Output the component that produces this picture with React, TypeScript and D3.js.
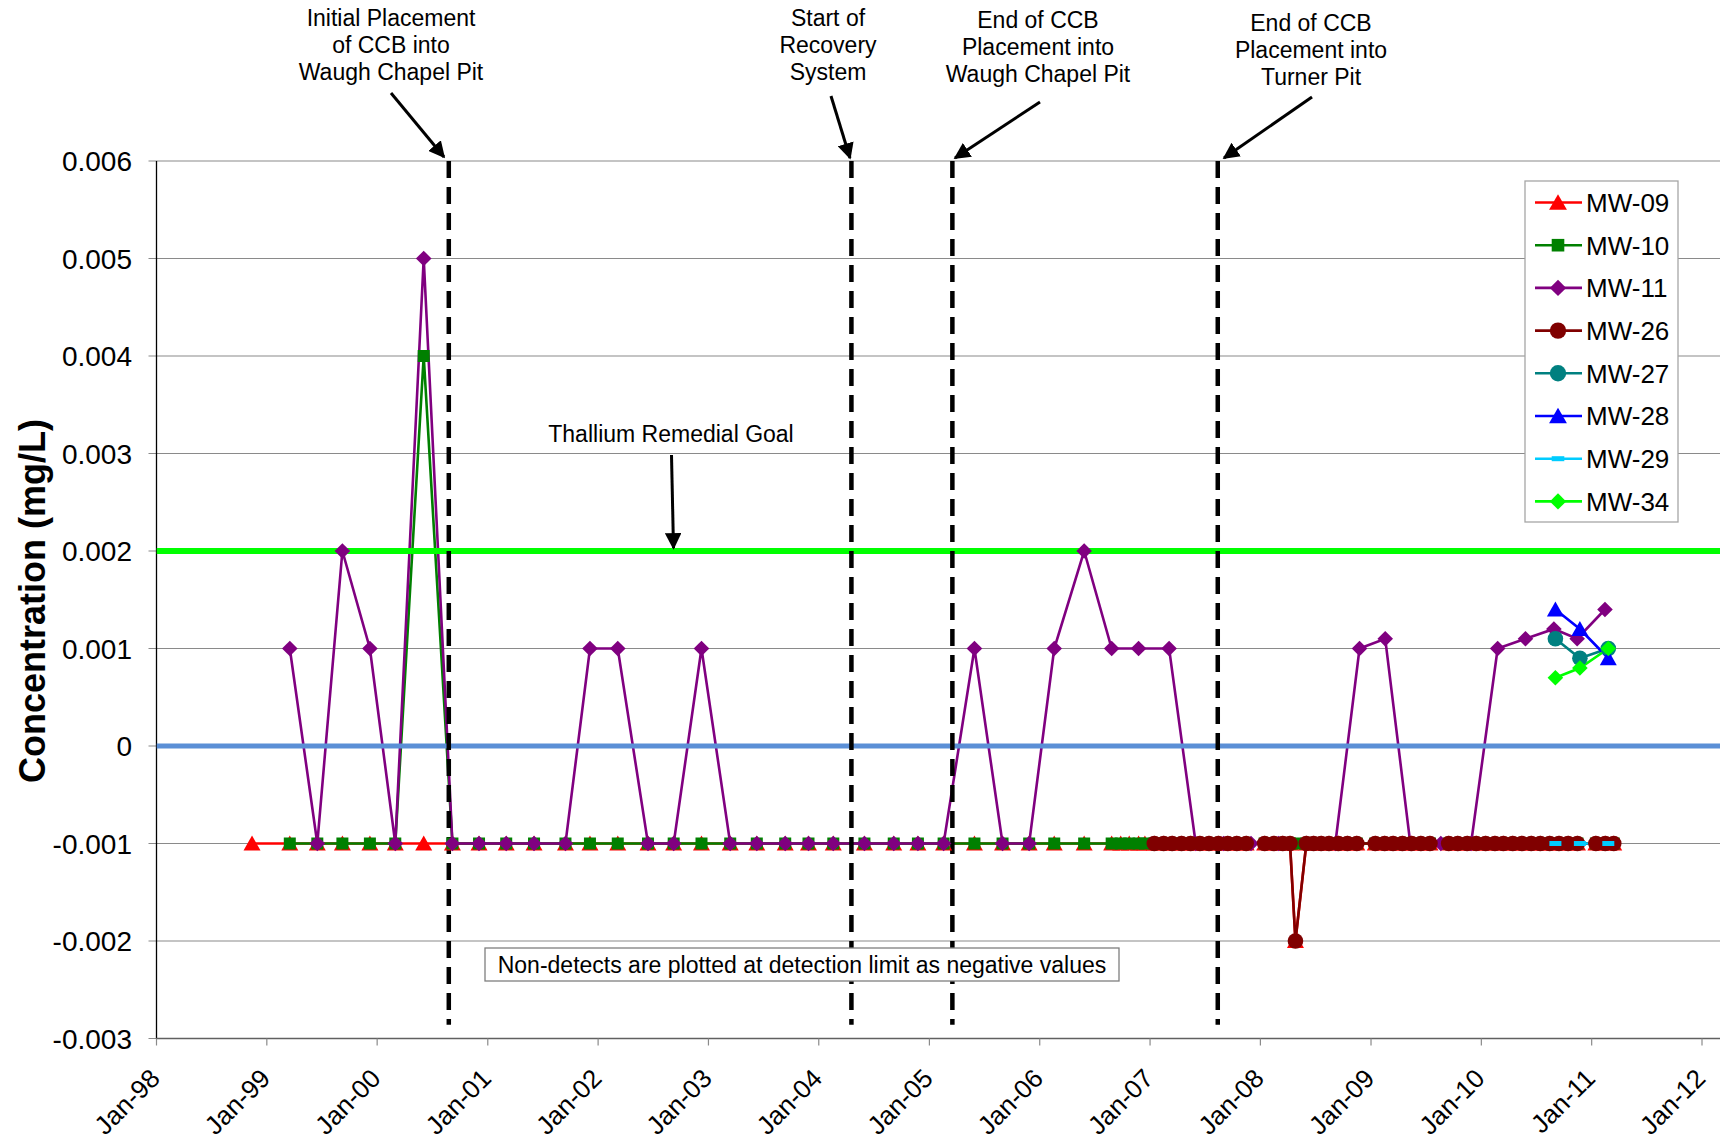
import React from "react";
import * as d3 from "d3";

// ---- data ----
const quarterDates = [
  "1998-11-13", "1999-03-18", "1999-06-17", "1999-09-08", "1999-12-08",
  "2000-03-01", "2000-06-03", "2000-09-06", "2000-12-03", "2001-03-03",
  "2001-06-03", "2001-09-15", "2001-12-05", "2002-03-07", "2002-06-15",
  "2002-09-08", "2002-12-09", "2003-03-14", "2003-06-10", "2003-09-12",
  "2003-11-28", "2004-02-18", "2004-05-31", "2004-09-05", "2004-11-24",
  "2005-02-17", "2005-05-30", "2005-08-31", "2005-11-27", "2006-02-18",
  "2006-05-28", "2006-08-27", "2006-11-24",
];
const mw09Quarter = [
  -0.001, -0.001, -0.001, -0.001, -0.001, -0.001, -0.001, -0.001, -0.001, -0.001,
  -0.001, -0.001, -0.001, -0.001, -0.001, -0.001, -0.001, -0.001, -0.001, -0.001,
  -0.001, -0.001, -0.001, -0.001, -0.001, -0.001, -0.001, -0.001, -0.001, -0.001,
  -0.001, -0.001, -0.001,
];
const mw10Quarter = [
  null, -0.001, -0.001, -0.001, -0.001, -0.001, 0.004, -0.001, -0.001, -0.001,
  -0.001, -0.001, -0.001, -0.001, -0.001, -0.001, -0.001, -0.001, -0.001, -0.001,
  -0.001, -0.001, -0.001, -0.001, -0.001, -0.001, -0.001, -0.001, -0.001, -0.001,
  -0.001, -0.001, -0.001,
];
const mw11Quarter = [
  null, 0.001, -0.001, 0.002, 0.001, -0.001, 0.005, -0.001, -0.001, -0.001,
  -0.001, -0.001, 0.001, 0.001, -0.001, -0.001, 0.001, -0.001, -0.001, -0.001,
  -0.001, -0.001, -0.001, -0.001, -0.001, -0.001, 0.001, -0.001, -0.001, 0.001,
  0.002, 0.001, 0.001,
];

const monthDates = [
  "2006-09-26", "2006-10-24", "2006-12-15",
  "2007-01-15", "2007-02-15", "2007-03-15", "2007-04-15", "2007-05-15", "2007-06-15",
  "2007-07-15", "2007-08-15", "2007-09-15", "2007-10-15", "2007-11-15",
  "2008-01-15", "2008-02-15", "2008-03-15", "2008-04-08", "2008-04-26", "2008-06-01",
  "2008-06-25", "2008-07-20", "2008-08-15", "2008-09-15", "2008-10-15", "2008-11-15",
  "2009-01-15", "2009-02-15", "2009-03-15", "2009-04-15", "2009-05-15", "2009-06-15",
  "2009-07-15", "2009-09-15", "2009-10-15", "2009-11-15", "2009-12-15",
  "2010-01-15", "2010-02-15", "2010-03-15", "2010-04-15", "2010-05-15", "2010-06-15",
  "2010-07-15", "2010-08-15", "2010-09-15", "2010-10-15", "2010-11-15",
  "2011-01-15", "2011-02-15", "2011-03-15",
];
const mw09Month = [
  -0.001, -0.001, -0.001,
  -0.001, -0.001, -0.001, -0.001, -0.001, -0.001, -0.001, -0.001, -0.001, -0.001, -0.001,
  -0.001, -0.001, -0.001, -0.001, -0.002, -0.001, -0.001, -0.001, -0.001, -0.001, -0.001, -0.001,
  -0.001, -0.001, -0.001, -0.001, -0.001, -0.001, -0.001, -0.001, -0.001, -0.001, -0.001,
  -0.001, -0.001, -0.001, -0.001, -0.001, -0.001, -0.001, -0.001, -0.001, -0.001, -0.001,
  -0.001, -0.001, -0.001,
];
const mw10Month = [
  -0.001, -0.001, -0.001,
  -0.001, -0.001, -0.001, -0.001, -0.001, -0.001, -0.001, -0.001, -0.001, -0.001, -0.001,
  -0.001, -0.001, -0.001, -0.001, -0.001, -0.001, -0.001, -0.001, -0.001, -0.001, -0.001, -0.001,
  -0.001, -0.001, -0.001, -0.001, -0.001, -0.001, -0.001, -0.001, -0.001, -0.001, -0.001,
  -0.001, -0.001, -0.001, -0.001, -0.001, -0.001, -0.001, -0.001, -0.001, -0.001, -0.001,
  -0.001, -0.001, -0.001,
];
const mw26Month = [
  null, null, null,
  -0.001, -0.001, -0.001, -0.001, -0.001, -0.001, -0.001, -0.001, -0.001, -0.001, -0.001,
  -0.001, -0.001, -0.001, -0.001, -0.002, -0.001, -0.001, -0.001, -0.001, -0.001, -0.001, -0.001,
  -0.001, -0.001, -0.001, -0.001, -0.001, -0.001, -0.001, -0.001, -0.001, -0.001, -0.001,
  -0.001, -0.001, -0.001, -0.001, -0.001, -0.001, -0.001, -0.001, -0.001, -0.001, -0.001,
  -0.001, -0.001, -0.001,
];

const mw11LateDates = [
  "2007-03-05", "2007-06-01", "2007-09-01", "2007-12-01", "2008-03-01", "2008-06-01",
  "2008-09-05", "2008-11-24", "2009-02-17", "2009-05-11", "2009-08-20", "2009-11-28",
  "2010-02-24", "2010-05-27", "2010-08-29", "2010-11-14", "2011-02-14",
];
const mw11Late = [
  0.001, -0.001, -0.001, -0.001, -0.001, -0.001,
  -0.001, 0.001, 0.0011, -0.001, -0.001, -0.001,
  0.001, 0.0011, 0.0012, 0.0011, 0.0014,
];

const newWellDates = ["2010-09-03", "2010-11-23", "2011-02-25"];
const mw27 = [0.0011, 0.0009, 0.001];
const mw28 = [0.0014, 0.0012, 0.0009];
const mw29 = [-0.001, -0.001, -0.001];
const mw34 = [0.0007, 0.0008, 0.001];

const goalValue = 0.002;
const yTickValues = [-0.003, -0.002, -0.001, 0, 0.001, 0.002, 0.003, 0.004, 0.005, 0.006];

const eventDates = ["2000-08-25", "2004-04-18", "2005-03-18", "2007-08-13"];
const eventLabels = [
  ["Initial Placement", "of CCB into", "Waugh Chapel Pit"],
  ["Start of", "Recovery", "System"],
  ["End of CCB", "Placement into", "Waugh Chapel Pit"],
  ["End of CCB", "Placement into", "Turner Pit"],
];

// ---- layout ----
const W = 1720;
const H = 1146;
const plotLeft = 156.5;
const plotTop = 161;
const plotBottom = 1038.5;
const font = "'Liberation Sans', Arial, Helvetica, sans-serif";

const parse = d3.timeParse("%Y-%m-%d");

const x = d3
  .scaleTime()
  .domain([new Date(1998, 0, 1), new Date(2012, 0, 1)])
  .range([plotLeft, 1702]);
const y = d3.scaleLinear().domain([-0.003, 0.006]).range([plotBottom, plotTop]);

const zip = (dates, values) =>
  dates.map((d, i) => ({ date: parse(d), v: values[i] }));

const series = [
  { name: "MW-09", color: "#FF0000", marker: "triangle", data: zip([...quarterDates, ...monthDates], [...mw09Quarter, ...mw09Month]) },
  { name: "MW-10", color: "#008000", marker: "square", data: zip([...quarterDates, ...monthDates], [...mw10Quarter, ...mw10Month]) },
  { name: "MW-11", color: "#800080", marker: "diamond", data: zip([...quarterDates, ...mw11LateDates], [...mw11Quarter, ...mw11Late]) },
  { name: "MW-26", color: "#800000", marker: "circle", data: zip(monthDates, mw26Month) },
  { name: "MW-27", color: "#008080", marker: "circle", data: zip(newWellDates, mw27) },
  { name: "MW-28", color: "#0000FF", marker: "triangle", data: zip(newWellDates, mw28) },
  { name: "MW-29", color: "#00CCFF", marker: "dash", data: zip(newWellDates, mw29) },
  { name: "MW-34", color: "#00FF00", marker: "diamond", data: zip(newWellDates, mw34) },
];

function Marker({ type, cx, cy, color, s = 1 }) {
  if (type === "triangle") {
    const w = 8.5 * s, h = 14 * s;
    return (
      <path
        d={`M${cx},${cy - h / 2 - 1} L${cx + w},${cy + h / 2} L${cx - w},${cy + h / 2} Z`}
        fill={color}
      />
    );
  }
  if (type === "square") {
    const r = 6 * s;
    return <rect x={cx - r} y={cy - r} width={2 * r} height={2 * r} fill={color} />;
  }
  if (type === "diamond") {
    const r = 7.8 * s;
    return (
      <path
        d={`M${cx},${cy - r} L${cx + r},${cy} L${cx},${cy + r} L${cx - r},${cy} Z`}
        fill={color}
      />
    );
  }
  if (type === "circle") {
    return <circle cx={cx} cy={cy} r={7.8 * s} fill={color} />;
  }
  // dash
  return <rect x={cx - 6 * s} y={cy - 2.5} width={12 * s} height={5} fill={color} />;
}

const line = d3
  .line()
  .defined((d) => d.v != null)
  .x((d) => x(d.date))
  .y((d) => y(d.v));

const App = () => {
  const yearTicks = x.ticks(d3.timeYear.every(1));
  const fmt = d3.timeFormat("%b-%y");
  const eventX = eventDates.map((d) => x(parse(d)));

  // label / arrow placement for the event annotations
  const labelPos = [
    { cx: 391, cy: 18, from: [391, 93], to: [444, 157] },
    { cx: 828, cy: 18, from: [831, 96], to: [850, 158] },
    { cx: 1038, cy: 20, from: [1040, 102], to: [955, 158] },
    { cx: 1311, cy: 23, from: [1312, 97], to: [1224, 158] },
  ];

  const legendX = 1525;
  const legendY = 181;
  const legendRow = 42.7;

  return (
    <svg
      width={W}
      height={H}
      style={{ position: "absolute", left: 0, top: 0, background: "#fff" }}
      fontFamily={font}
    >
      <defs>
        <marker id="arrow" viewBox="0 0 10 10" refX="9" refY="5" markerWidth="5.5" markerHeight="5.5" orient="auto-start-reverse" markerUnits="strokeWidth">
          <path d="M0,0 L10,5 L0,10 Z" fill="#000" />
        </marker>
        <clipPath id="plotClip">
          <rect x={plotLeft} y={plotTop - 20} width={W - plotLeft} height={plotBottom - plotTop + 40} />
        </clipPath>
      </defs>

      {/* grid lines */}
      {yTickValues.map((t) => (
        <line key={t} x1={plotLeft - 8} x2={W} y1={y(t)} y2={y(t)} stroke="#8a8a8a" strokeWidth={1.2} />
      ))}

      {/* axes */}
      <line x1={plotLeft} x2={plotLeft} y1={plotTop} y2={plotBottom} stroke="#000" strokeWidth={1.3} />
      <line x1={plotLeft} x2={W} y1={plotBottom} y2={plotBottom} stroke="#606060" strokeWidth={1.5} />
      {yearTicks.map((t) => (
        <line key={+t} x1={x(t)} x2={x(t)} y1={plotBottom} y2={plotBottom + 7} stroke="#8a8a8a" strokeWidth={1.2} />
      ))}

      {/* y tick labels */}
      {yTickValues.map((t) => (
        <text key={t} x={132} y={y(t)} dy="0.36em" textAnchor="end" fontSize={28} fill="#000">
          {t === 0 ? "0" : t.toFixed(3)}
        </text>
      ))}

      {/* x tick labels */}
      {yearTicks.map((t) => (
        <text
          key={+t}
          transform={`translate(${x(t) + 5},${1080}) rotate(-45)`}
          textAnchor="end"
          fontSize={26}
          fill="#000"
        >
          {fmt(t)}
        </text>
      ))}

      {/* y axis title */}
      <text
        transform={`translate(${45},${601}) rotate(-90)`}
        textAnchor="middle"
        fontSize={36}
        fontWeight="bold"
        fill="#000"
      >
        Concentration  (mg/L)
      </text>

      <g clipPath="url(#plotClip)">
        {/* series lines */}
        {series.map((s) => (
          <path key={s.name} d={line(s.data)} fill="none" stroke={s.color} strokeWidth={2.6} />
        ))}

        {/* remedial goal and zero lines */}
        <line x1={plotLeft} x2={W} y1={y(goalValue)} y2={y(goalValue)} stroke="#00FF00" strokeWidth={6} />
        <line x1={plotLeft} x2={W} y1={y(0)} y2={y(0)} stroke="#5B8FD6" strokeWidth={5} />

        {/* event lines */}
        {eventX.map((ex, i) => (
          <line key={i} x1={ex} x2={ex} y1={plotTop} y2={y(-0.00286)} stroke="#000" strokeWidth={4.5} strokeDasharray="17 9" />
        ))}

        {/* markers */}
        {series.map((s) => (
          <g key={s.name}>
            {s.data
              .filter((d) => d.v != null)
              .map((d, i) => (
                <Marker key={i} type={s.marker} cx={x(d.date)} cy={y(d.v)} color={s.color} />
              ))}
          </g>
        ))}
      </g>

      {/* event annotations */}
      {eventLabels.map((lines, i) => (
        <g key={i}>
          {lines.map((l, j) => (
            <text key={j} x={labelPos[i].cx} y={labelPos[i].cy + j * 26.8} dy="0.36em" textAnchor="middle" fontSize={23} fill="#000">
              {l}
            </text>
          ))}
          <line
            x1={labelPos[i].from[0]}
            y1={labelPos[i].from[1]}
            x2={labelPos[i].to[0]}
            y2={labelPos[i].to[1]}
            stroke="#000"
            strokeWidth={3}
            markerEnd="url(#arrow)"
          />
        </g>
      ))}

      {/* goal annotation */}
      <text x={671} y={434} dy="0.36em" textAnchor="middle" fontSize={23} fill="#000">
        Thallium Remedial Goal
      </text>
      <line x1={671.5} y1={455} x2={673.5} y2={y(goalValue) - 3} stroke="#000" strokeWidth={3} markerEnd="url(#arrow)" />

      {/* non-detect note */}
      <rect x={485} y={948} width={634} height={33} fill="#fff" stroke="#7f7f7f" strokeWidth={1.3} />
      <text x={802} y={965} dy="0.36em" textAnchor="middle" fontSize={23} fill="#000">
        Non-detects are plotted at detection limit as negative values
      </text>

      {/* legend */}
      <rect x={legendX} y={legendY} width={153} height={341} fill="#fff" stroke="#a6a6a6" strokeWidth={1.3} />
      {series.map((s, i) => {
        const ly = legendY + 21.5 + i * legendRow;
        return (
          <g key={s.name}>
            <line x1={legendX + 10} x2={legendX + 57} y1={ly} y2={ly} stroke={s.color} strokeWidth={2.6} />
            <Marker type={s.marker} cx={legendX + 33} cy={ly} color={s.color} s={1.05} />
            <text x={legendX + 61} y={ly} dy="0.36em" fontSize={26} fill="#000">
              {s.name}
            </text>
          </g>
        );
      })}
    </svg>
  );
};

export default App;
